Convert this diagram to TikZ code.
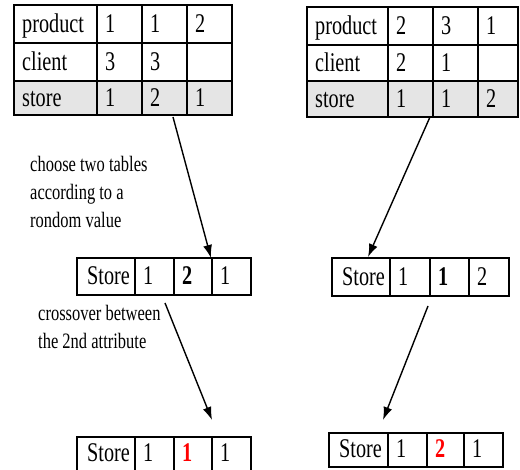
\documentclass[tikz,border=0pt]{standalone}
\usepackage{fontspec}
\setmainfont{Liberation Serif}[FakeStretch=0.75]
\usetikzlibrary{arrows.meta,positioning,calc}

\begin{document}
\begin{tikzpicture}[x=1pt,y=-1pt,
	tbl/.style={line width=1.4pt},
	txt/.style={anchor=base west,inner sep=0pt,font=\fontsize{27}{29}\selectfont},
	lbl/.style={anchor=base west,inner sep=0pt,font=\fontsize{22}{28}\selectfont},
	arr/.style={line width=1.4pt,-{Latex[length=13pt,width=9pt]}}]
				\useasboundingbox (0,0) rectangle (520,470);
				
				% first parent table
				\fill[black!10] (14,81) rectangle (232,115);
				\draw[tbl] (14,5) rectangle (232,115);
				\draw[tbl] (14,43)--(232,43) (14,81)--(232,81);
				\draw[tbl] (97,5)--(97,115) (142,5)--(142,115) (187,5)--(187,115);
				\node[txt] (lprod) at (22,33) {product};
				\node[txt] (lprodA) at (105,33) {1};
				\node[txt] (lprodB) at (150,33) {1};
				\node[txt] (lprodC) at (195,33) {2};
				\node[txt] (lcli) at (22,71) {client};
				\node[txt] (lcliA) at (105,71) {3};
				\node[txt] (lcliB) at (150,71) {3};
				\node[txt] (lsto) at (22,107) {store};
				\node[txt] (lstoA) at (105,107) {1};
				\node[txt] (lstoB) at (150,107) {2};
				\node[txt] (lstoC) at (195,107) {1};
				
				% second parent table
				\fill[black!10] (307,81) rectangle (518,117);
				\draw[tbl] (307,7) rectangle (518,117);
				\draw[tbl] (307,45)--(518,45) (307,81)--(518,81);
				\draw[tbl] (388,7)--(388,117) (433,7)--(433,117) (478,7)--(478,117);
				\node[txt] (rprod) at (315,35) {product};
				\node[txt] (rprodA) at (396,35) {2};
				\node[txt] (rprodB) at (441,35) {3};
				\node[txt] (rprodC) at (486,35) {1};
				\node[txt] (rcli) at (315,72) {client};
				\node[txt] (rcliA) at (396,72) {2};
				\node[txt] (rcliB) at (441,72) {1};
				\node[txt] (rsto) at (315,108) {store};
				\node[txt] (rstoA) at (396,108) {1};
				\node[txt] (rstoB) at (441,108) {1};
				\node[txt] (rstoC) at (486,108) {2};
				
				% chosen rows
				\draw[tbl] (77,258) rectangle (251,295);
				\draw[tbl] (135,258)--(135,295) (174,258)--(174,295) (212,258)--(212,295);
				\node[txt] (lmS) at (87,285) {Store};
				\node[txt] (lmA) at (143,285) {1};
				\node[txt] (lmB) at (182,285) {\textbf{2}};
				\node[txt] (lmC) at (220,285) {1};
				
				\draw[tbl] (332,258) rectangle (509,296);
				\draw[tbl] (390,258)--(390,296) (430,258)--(430,296) (469,258)--(469,296);
				\node[txt] (rmS) at (342,286) {Store};
				\node[txt] (rmA) at (398,286) {1};
				\node[txt] (rmB) at (438,286) {\textbf{1}};
				\node[txt] (rmC) at (477,286) {2};
				
				% children
				\draw[tbl] (77,437) rectangle (251,476);
				\draw[tbl] (135,437)--(135,476) (174,437)--(174,476) (212,437)--(212,476);
				\node[txt] (lbS) at (87,462) {Store};
				\node[txt] (lbA) at (143,462) {1};
				\node[txt,text=red] (lbB) at (182,462) {\textbf{1}};
				\node[txt] (lbC) at (220,462) {1};
				
				\draw[tbl] (329,433) rectangle (503,467);
				\draw[tbl] (388,433)--(388,467) (427,433)--(427,467) (464,433)--(464,467);
				\node[txt] (rbS) at (339,458) {Store};
				\node[txt] (rbA) at (396,458) {1};
				\node[txt,text=red] (rbB) at (435,458) {\textbf{2}};
				\node[txt] (rbC) at (472,458) {1};
				
				\node[lbl] (choose) at (30,172) {choose two tables};
				\node[lbl] (accord) at (30,200) {according to a};
				\node[lbl] (rnd) at (30,228) {rondom value};
				\node[lbl] (cross) at (38,321) {crossover between};
				\node[lbl] (attr) at (38,349) {the 2nd attribute};
				
				\coordinate (selL) at (173,117);
				\coordinate (selLtip) at (211,258);
				\coordinate (selR) at (430,117);
				\coordinate (selRtip) at (368,257);
				\coordinate (xoL) at (165,303);
				\coordinate (xoLtip) at (212,420);
				\coordinate (xoR) at (428,306);
				\coordinate (xoRtip) at (383,420);
				
				\draw[arr] (selL)--(selLtip);
				\draw[arr] (selR)--(selRtip);
				\draw[arr] (xoL)--(xoLtip);
				\draw[arr] (xoR)--(xoRtip);
			\end{tikzpicture}
\end{document}
